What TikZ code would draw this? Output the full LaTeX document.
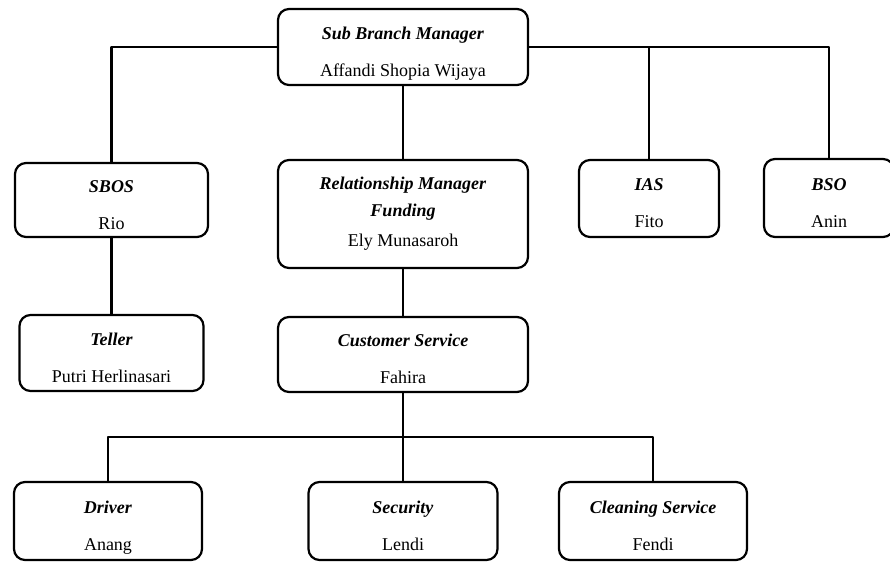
\documentclass[tikz,border=0pt]{standalone}
\usepackage{fontspec}
\setmainfont{Liberation Serif}
\tikzset{
  post/.style={draw, rounded corners=11pt, line width=2.2pt, align=center,
    inner sep=0pt, font=\fontsize{18}{21}\selectfont},
  link/.style={line width=2.2pt}
}
\newcommand{\jab}[1]{\textbf{\textit{#1}}}
\newcommand{\role}[2]{\rule{0pt}{26pt}\jab{#1}\\[16pt]#2\rule[-5pt]{0pt}{5pt}}
\begin{document}
\begin{tikzpicture}[x=1pt,y=1pt, line join=round]
\useasboundingbox (0,0) rectangle (890,-562);
% top level
\node[post, minimum width=250, minimum height=76] (sbm) at (403,-47)
  {\role{Sub Branch Manager}{Affandi Shopia Wijaya}};
% second level
\node[post, minimum width=193, minimum height=74] (sbos) at (111.5,-200)
  {\role{SBOS}{Rio}};
\node[post, minimum width=250, minimum height=108] (rmf) at (403,-214)
  {\jab{Relationship Manager}\\[6pt]\jab{Funding}\\[9pt]Ely Munasaroh};
\node[post, minimum width=140, minimum height=77] (ias) at (649,-198.5)
  {\role{IAS}{Fito}};
\node[post, minimum width=130, minimum height=78] (bso) at (829,-198)
  {\role{BSO}{Anin}};
% third level
\node[post, minimum width=184, minimum height=76] (teller) at (111.5,-353)
  {\role{Teller}{Putri Herlinasari}};
\node[post, minimum width=250, minimum height=75] (cs) at (403,-354.5)
  {\role{Customer Service}{Fahira}};
% bottom level
\node[post, minimum width=188, minimum height=78] (driver) at (108,-521)
  {\role{Driver}{Anang}};
\node[post, minimum width=189, minimum height=78] (security) at (403,-521)
  {\role{Security}{Lendi}};
\node[post, minimum width=188, minimum height=78] (cleaning) at (653,-521)
  {\role{Cleaning Service}{Fendi}};
\coordinate (bus) at (403,-437);
% connectors
\draw[link] (sbm.west) -| (sbos.north);
\draw[link] (sbm.east) -| (bso.north);
\draw[link] (ias.north) |- (sbm.east);
\draw[link] (sbm) -- (rmf);
\draw[link] (sbos) -- (teller);
\draw[link] (rmf) -- (cs);
\draw[link] (cs.south) -- (security.north);
\draw[link] (driver.north) |- (bus) -| (cleaning.north);
\end{tikzpicture}
\end{document}
